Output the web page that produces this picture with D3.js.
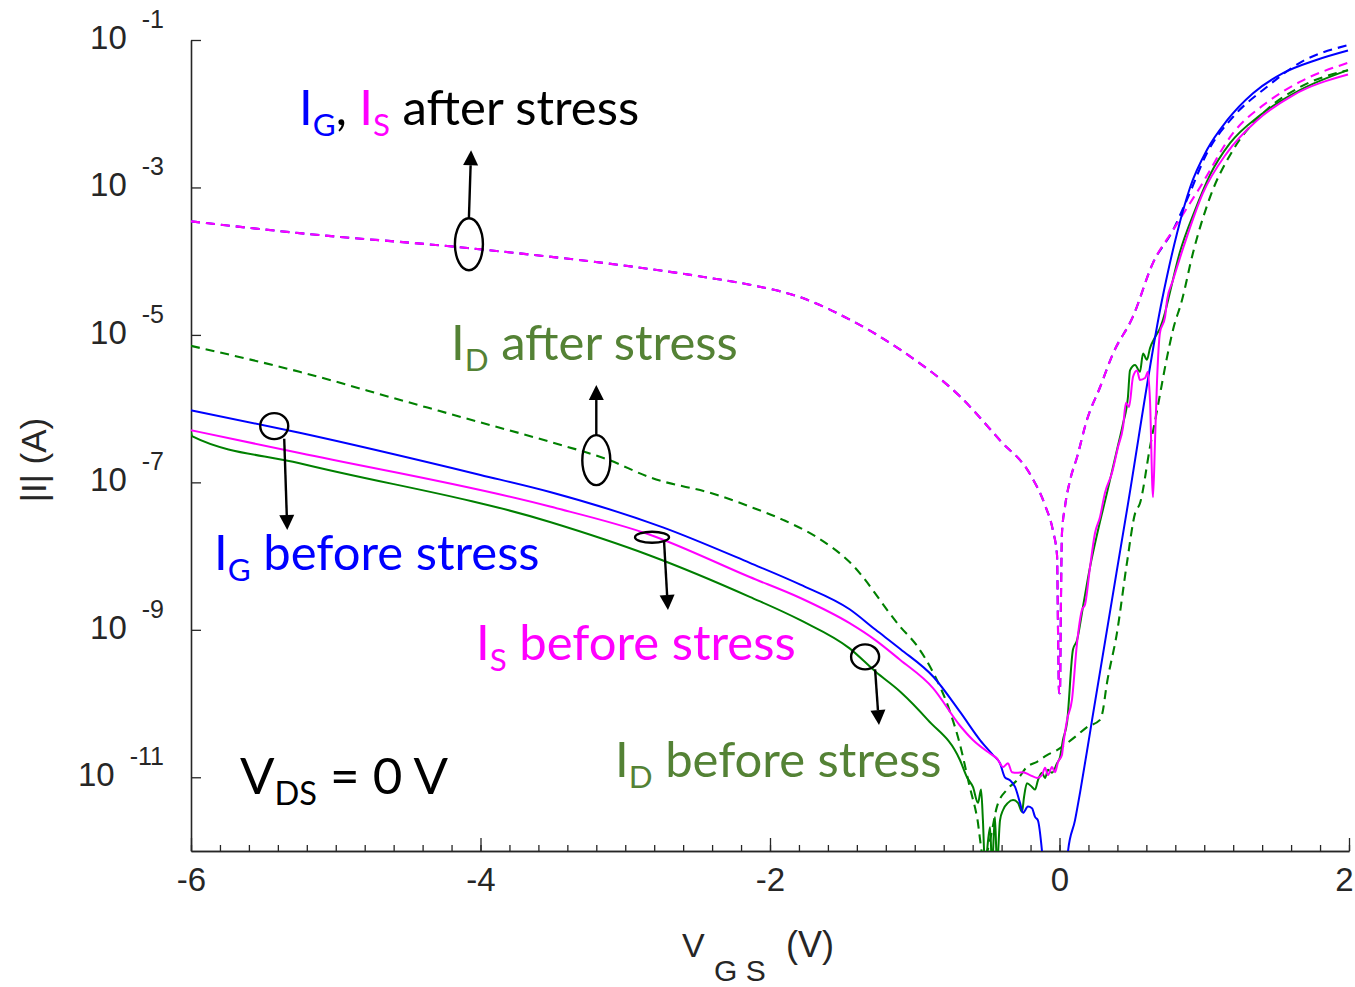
<!DOCTYPE html>
<html><head><meta charset="utf-8">
<script src="https://cdn.jsdelivr.net/npm/d3@7"></script>
<style>
html,body{margin:0;padding:0;background:#fff;}
svg{display:block;}
</style></head><body>
<svg id="chart" width="1355" height="987"></svg>
<script>
// ---- measured transfer curves, |I| in amperes versus V_GS in volts ----

// gate current before stress
const vgsIgBefore = [-6.00,-5.25,-4.00,-3.52,-2.74,-2.14,-1.79,-1.45,-1.27,-1.10,-0.87,-0.687,-0.549,-0.459,-0.411,-0.377,-0.342,-0.307,-0.273,-0.252,-0.218,-0.190,-0.169,-0.149,-0.121,-0.10,-0.05,0.03,0.059,0.107,0.142,0.197,0.225,0.466,0.708,0.812,0.902,1.019,1.157,1.337,1.544,1.779,1.993];
const igBefore = [9.5e-7,4.7e-7,1.26e-7,7.4e-8,2.45e-8,8.1e-9,4.1e-9,1.9e-9,1.0e-9,5.5e-10,2.29e-10,7.7e-11,3.2e-11,2.0e-11,1.55e-11,1.0e-11,9.1e-12,7.4e-12,4.5e-12,3.3e-12,4.0e-12,3.8e-12,2.9e-12,2.6e-12,1.0e-12,3.2e-13,2e-13,2e-13,1.0e-12,2.6e-12,6.2e-12,2.75e-11,6.0e-11,4.2e-8,2.95e-5,2.4e-4,1.0e-3,3.24e-3,8.1e-3,1.9e-2,3.55e-2,5.4e-2,7.2e-2];

// source current before stress
const vgsIsBefore = [-6.00,-5.25,-3.52,-2.83,-2.14,-1.79,-1.45,-1.27,-1.10,-0.874,-0.687,-0.598,-0.480,-0.432,-0.390,-0.356,-0.328,-0.294,-0.252,-0.204,-0.155,-0.121,-0.100,-0.079,-0.052,-0.031,-0.010,0.017,0.024,0.052,0.086,0.121,0.155,0.176,0.211,0.245,0.280,0.314,0.363,0.404,0.439,0.459,0.480,0.508,0.535,0.556,0.591,0.611,0.625,0.646,0.660,0.674,0.694,0.729,0.743,0.784,0.88,0.99,1.157,1.364,1.613,1.993];
const isBefore = [5.1e-7,2.5e-7,4.7e-8,1.95e-8,5.2e-9,2.7e-9,1.23e-9,7.2e-10,3.9e-10,1.62e-10,5.0e-11,3.2e-11,2.1e-11,1.8e-11,1.38e-11,1.55e-11,1.17e-11,1.15e-11,1.17e-11,1.07e-11,9.8e-12,1.07e-11,1.35e-11,1.07e-11,1.38e-11,1.17e-11,1.62e-11,2.0e-11,2.57e-11,6.0e-11,1.12e-10,6.6e-10,1.86e-9,2.19e-9,7.1e-9,2.04e-8,3.4e-8,7.2e-8,1.35e-7,3.0e-7,5.6e-7,1.2e-6,1.05e-6,2.7e-6,3.3e-6,2.45e-6,2.6e-6,3.16e-6,1.32e-6,6.3e-8,3.7e-7,2.45e-6,1.07e-5,1.74e-5,2.95e-5,5.5e-5,2.14e-4,8.3e-4,2.95e-3,8.1e-3,1.78e-2,3.4e-2];

// drain current before stress
const vgsIdBefore = [-6.00,-5.99,-5.25,-3.52,-2.83,-2.14,-1.79,-1.45,-1.27,-1.10,-0.91,-0.687,-0.639,-0.598,-0.563,-0.542,-0.529,-0.515,-0.480,-0.466,-0.446,-0.432,-0.411,-0.390,-0.356,-0.321,-0.287,-0.259,-0.245,-0.225,-0.190,-0.169,-0.149,-0.121,-0.100,-0.079,-0.052,-0.017,0.003,0.024,0.052,0.093,0.121,0.162,0.211,0.266,0.328,0.397,0.439,0.473,0.487,0.522,0.556,0.577,0.604,0.625,0.660,0.694,0.729,0.750,0.83,0.936,1.04,1.178,1.385,1.661,1.993];
const idBefore = [4.8e-7,4.2e-7,1.82e-7,2.9e-8,1.02e-8,2.8e-9,1.35e-9,5.6e-10,2.7e-10,1.45e-10,6.0e-11,1.7e-11,1.0e-11,7.4e-12,4.5e-12,6.8e-12,2.6e-12,6.3e-13,2.1e-12,6.3e-13,2.9e-12,6.3e-13,2.6e-12,3.6e-12,4.5e-12,4.9e-12,4.5e-12,3.4e-12,5.4e-12,8.3e-12,7.4e-12,6.8e-12,9.1e-12,1.15e-11,9.8e-12,1.26e-11,1.15e-11,1.55e-11,1.86e-11,3.2e-11,5.5e-11,5.4e-10,7.2e-10,2.04e-9,7.1e-9,2.24e-8,7.2e-8,2.75e-7,6.3e-7,1.45e-6,3.3e-6,3.9e-6,3.16e-6,5.6e-6,4.6e-6,6.6e-6,9.3e-6,1.23e-5,2.0e-5,2.95e-5,1.29e-4,4.9e-4,1.48e-3,3.98e-3,9.5e-3,2.09e-2,3.9e-2];

// gate current after stress
const vgsIgAfter = [-6.00,-5.25,-4.09,-2.48,-2.14,-1.79,-1.44,-1.10,-0.69,-0.41,-0.20,-0.10,-0.045,-0.017,-0.010,-0.003,0.003,0.010,0.017,0.038,0.073,0.121,0.190,0.280,0.370,0.508,0.646,0.784,0.88,1.02,1.2,1.43,1.66,1.993];
const igAfter = [3.47e-4,2.4e-4,1.51e-4,6.2e-5,4.8e-5,3.24e-5,1.58e-5,6.3e-6,1.48e-6,3.7e-7,1.26e-7,4.9e-8,2.2e-8,1.02e-8,9.1e-10,1.38e-10,1.38e-10,2.5e-9,2.04e-8,4.7e-8,1.07e-7,2.19e-7,7.1e-7,1.95e-6,5.6e-6,1.78e-5,9.5e-5,2.63e-4,6.8e-4,2.95e-3,9.1e-3,2.29e-2,4.9e-2,8.5e-2];

// source current after stress
const vgsIsAfter = [-6.00,-5.25,-4.09,-2.48,-2.14,-1.79,-1.44,-1.10,-0.69,-0.41,-0.20,-0.10,-0.045,-0.017,-0.010,-0.003,0.003,0.010,0.017,0.038,0.073,0.121,0.190,0.280,0.370,0.508,0.646,0.784,0.97,1.2,1.43,1.66,1.993];
const isAfter = [3.47e-4,2.4e-4,1.51e-4,6.2e-5,4.8e-5,3.24e-5,1.58e-5,6.3e-6,1.48e-6,3.7e-7,1.26e-7,4.9e-8,2.2e-8,1.02e-8,9.1e-10,1.38e-10,1.38e-10,2.5e-9,2.04e-8,4.7e-8,1.07e-7,2.19e-7,7.1e-7,1.95e-6,5.6e-6,1.78e-5,9.5e-5,2.63e-4,1.0e-3,5.5e-3,1.41e-2,2.7e-2,4.9e-2];

// drain current after stress
const vgsIdAfter = [-6.00,-5.25,-4.56,-4.00,-3.52,-3.11,-2.83,-2.37,-2.14,-1.91,-1.68,-1.45,-1.10,-0.98,-0.87,-0.76,-0.69,-0.62,-0.57,-0.522,-0.48,-0.432,-0.363,-0.294,-0.225,-0.155,-0.086,-0.017,0.052,0.121,0.190,0.280,0.294,0.328,0.397,0.466,0.522,0.556,0.625,0.674,0.743,0.784,0.846,0.922,1.04,1.2,1.43,1.66,1.993];
const idAfter = [7.1e-6,3.16e-6,1.32e-6,6.5e-7,3.55e-7,2.0e-7,1.17e-7,6.8e-8,4.7e-8,3.1e-8,1.82e-8,8.3e-9,1.1e-9,5.9e-10,2.57e-10,8.1e-11,2.9e-11,7.4e-12,2.9e-12,7.6e-13,1.41e-12,4.0e-12,6.8e-12,9.1e-12,1.38e-11,1.62e-11,2.0e-11,2.34e-11,2.9e-11,3.7e-11,4.8e-11,6.0e-11,7.1e-11,1.9e-10,9.1e-10,8.1e-9,3.8e-8,5.2e-8,3.0e-7,9.5e-7,5.0e-6,1.17e-5,2.95e-5,1.29e-4,7.4e-4,3.24e-3,1.12e-2,2.29e-2,3.9e-2];

// axis ticks
const xTickValues = [-6, -4, -2, 0, 2];
const xTickLabels = ["-6", "-4", "-2", "0", "2"];
const yTickExponents = [-1, -3, -5, -7, -9, -11];

// ---- layout ----
const svg = d3.select("#chart");
const plot = { left: 191, right: 1349, top: 40, bottom: 851 };
const axisColor = "#262626";
const tickFont = "'Liberation Sans', Arial, Helvetica, sans-serif";
const noteFont = "Lato, 'Open Sans', sans-serif";
const olive = "#548235";

const x = d3.scaleLinear().domain([-6, 2]).range([plot.left, plot.right]);
const y = d3.scaleLog().domain([1e-12, 1e-1]).range([plot.bottom, plot.top]);

svg.append("rect").attr("width", 1355).attr("height", 987).attr("fill", "#fff");

svg.append("defs").append("clipPath").attr("id", "plotClip")
  .append("rect")
  .attr("x", plot.left).attr("y", plot.top)
  .attr("width", plot.right - plot.left).attr("height", plot.bottom - plot.top);

// ---- axes ----
const minorTicks = d3.range(-30, 11).map(k => k / 5);

const xMinor = svg.append("g")
  .attr("transform", `translate(0,${plot.bottom})`)
  .call(d3.axisBottom(x).tickValues(minorTicks).tickSize(-6).tickSizeOuter(0).tickFormat(""));
const xMajor = svg.append("g")
  .attr("transform", `translate(0,${plot.bottom})`)
  .call(d3.axisBottom(x).tickValues(xTickValues).tickSize(-13).tickSizeOuter(0)
    .tickPadding(17).tickFormat((d, i) => xTickLabels[i]));
xMajor.selectAll("text")
  .attr("font-family", tickFont).attr("font-size", 33).attr("fill", axisColor);
// the last label sits at the right border; keep it inside the frame
xMajor.selectAll(".tick").filter(d => d === 2).select("text").attr("dx", -5);

const yAxis = svg.append("g")
  .attr("transform", `translate(${plot.left},0)`)
  .call(d3.axisLeft(y).tickValues(yTickExponents.map(e => Math.pow(10, e)))
    .tickSize(-10).tickSizeOuter(0).tickFormat(""));

[xMinor, xMajor, yAxis].forEach(g => {
  g.selectAll("path.domain").attr("stroke", axisColor).attr("stroke-width", 1.6);
  g.selectAll(".tick line").attr("stroke", axisColor).attr("stroke-width", 1.3);
});

// decade labels with superscript exponents
const yLabels = svg.append("g")
  .attr("font-family", tickFont).attr("fill", axisColor);
yTickExponents.forEach(e => {
  const t = yLabels.append("text")
    .attr("x", 164).attr("y", y(Math.pow(10, e)) + 9)
    .attr("text-anchor", "end");
  t.append("tspan").attr("font-size", 33).text("10");
  t.append("tspan").attr("font-size", 25).attr("dx", 15).attr("dy", -21).text(String(e));
});

// axis titles
svg.append("text")
  .attr("transform", "translate(46,460) rotate(-90)")
  .attr("text-anchor", "middle")
  .attr("font-family", tickFont).attr("font-size", 35).attr("fill", axisColor)
  .text("|I| (A)");

const xTitle = svg.append("text")
  .attr("font-family", tickFont).attr("fill", axisColor);
xTitle.append("tspan").attr("x", 682).attr("y", 957).attr("font-size", 34).text("V");
xTitle.append("tspan").attr("x", 714).attr("y", 981).attr("font-size", 30).text("G S");
xTitle.append("tspan").attr("x", 786).attr("y", 957).attr("font-size", 36).text("(V)");

// ---- curves ----
const line = d3.line()
  .x(d => x(d[0]))
  .y(d => y(d[1]))
  .curve(d3.curveMonotoneX);

const curves = svg.append("g").attr("clip-path", "url(#plotClip)").attr("fill", "none");

const series = [
  { v: vgsIdAfter, i: idAfter, color: "#008000", dash: "9,6", w: 2.1 },
  { v: vgsIdBefore, i: idBefore, color: "#008000", dash: null, w: 2 },
  { v: vgsIgAfter, i: igAfter, color: "#0000ff", dash: "9,6", w: 2.1 },
  { v: vgsIsAfter, i: isAfter, color: "#ff00ff", dash: "9,6", w: 2.1 },
  { v: vgsIgBefore, i: igBefore, color: "#0000ff", dash: null, w: 2 },
  { v: vgsIsBefore, i: isBefore, color: "#ff00ff", dash: null, w: 2 }
];
series.forEach(s => {
  curves.append("path")
    .datum(d3.zip(s.v, s.i))
    .attr("d", line)
    .attr("stroke", s.color)
    .attr("stroke-width", s.w)
    .attr("stroke-dasharray", s.dash)
    .attr("stroke-linejoin", "round");
});

// ---- callout rings and arrows ----
const rings = [
  { v: -4.08, i: 1.7e-4, rx: 14, ry: 26 },
  { v: -3.20, i: 2.0e-7, rx: 14, ry: 25 },
  { v: -2.815, i: 1.8e-8, rx: 17, ry: 5.5 },
  { v: -5.425, i: 5.8e-7, rx: 14, ry: 13 },
  { v: -1.343, i: 4.3e-10, rx: 14, ry: 12.5 }
];
const arrows = [
  { v0: -4.08, i0: 3.85e-4, v1: -4.065, i1: 3.2e-3 },
  { v0: -3.20, i0: 4.4e-7, v1: -3.20, i1: 2.09e-6 },
  { v0: -2.732, i0: 1.6e-8, v1: -2.705, i1: 1.86e-9 },
  { v0: -5.356, i0: 3.9e-7, v1: -5.335, i1: 2.26e-8 },
  { v0: -1.274, i0: 2.9e-10, v1: -1.247, i1: 5.1e-11 }
];

const notes = svg.append("g");
rings.forEach(r => {
  notes.append("ellipse")
    .attr("cx", x(r.v)).attr("cy", y(r.i))
    .attr("rx", r.rx).attr("ry", r.ry)
    .attr("fill", "none").attr("stroke", "#000").attr("stroke-width", 2.4);
});
arrows.forEach(a => {
  const x0 = x(a.v0), y0 = y(a.i0), x1 = x(a.v1), y1 = y(a.i1);
  const len = Math.hypot(x1 - x0, y1 - y0);
  const ux = (x1 - x0) / len, uy = (y1 - y0) / len;
  const head = 15, half = 7.5;
  const bx = x1 - ux * head, by = y1 - uy * head;
  notes.append("line")
    .attr("x1", x0).attr("y1", y0).attr("x2", bx).attr("y2", by)
    .attr("stroke", "#000").attr("stroke-width", 2.4);
  notes.append("path")
    .attr("d", `M${x1},${y1}L${bx - uy * half},${by + ux * half}L${bx + uy * half},${by - ux * half}Z`)
    .attr("fill", "#000");
});

// ---- text labels ----
function label(px, py, size, parts) {
  const t = svg.append("text")
    .attr("x", px).attr("y", py)
    .attr("font-family", noteFont).attr("font-size", size);
  parts.forEach(p => {
    const s = t.append("tspan").attr("fill", p.c).text(p.t);
    if (p.sub) s.attr("font-size", size * 0.64).attr("dy", 11);
    if (p.up) s.attr("dy", -11);
  });
  return t;
}

label(299, 125, 49, [
  { t: "I", c: "#0000ff" }, { t: "G", c: "#0000ff", sub: true },
  { t: ", ", c: "#000", up: true },
  { t: "I", c: "#ff00ff" }, { t: "S", c: "#ff00ff", sub: true },
  { t: " after stress", c: "#000", up: true }
]);
label(451, 360, 49, [
  { t: "I", c: olive }, { t: "D", c: olive, sub: true },
  { t: " after stress", c: olive, up: true }
]);
label(214, 570, 49, [
  { t: "I", c: "#0000ff" }, { t: "G", c: "#0000ff", sub: true },
  { t: " before stress", c: "#0000ff", up: true }
]);
label(476, 660, 49, [
  { t: "I", c: "#ff00ff" }, { t: "S", c: "#ff00ff", sub: true },
  { t: " before stress", c: "#ff00ff", up: true }
]);
label(615, 777, 49, [
  { t: "I", c: olive }, { t: "D", c: olive, sub: true },
  { t: " before stress", c: olive, up: true }
]);
label(240, 794, 51, [
  { t: "V", c: "#000" }, { t: "DS", c: "#000", sub: true },
  { t: " = 0 V", c: "#000", up: true }
]);
</script>
</body></html>
